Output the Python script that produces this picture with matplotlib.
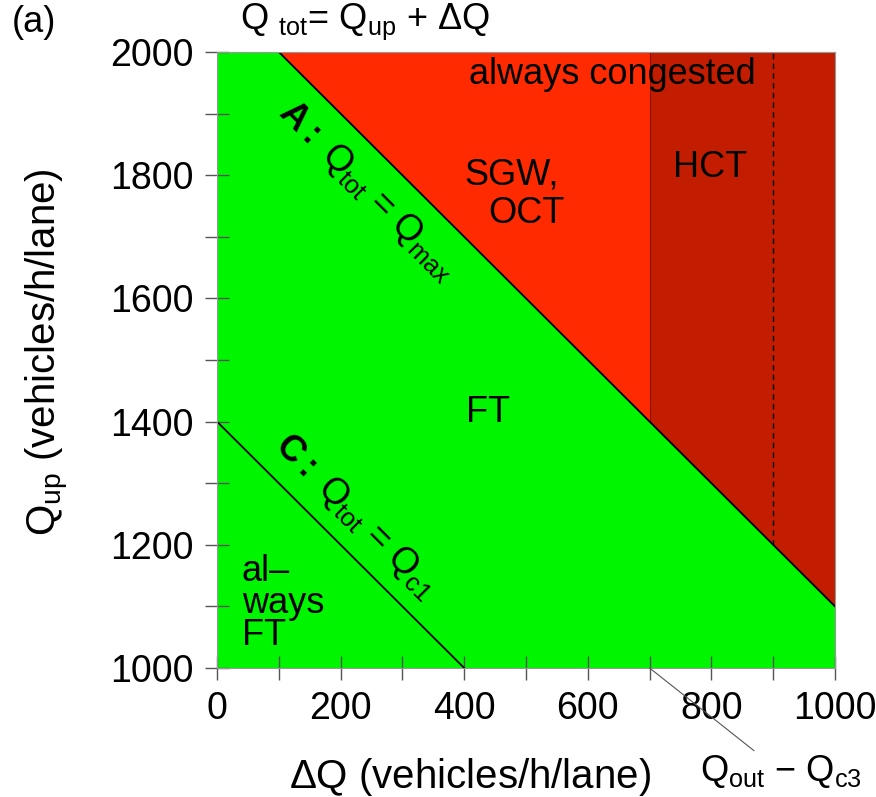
import numpy as np
import matplotlib
matplotlib.use("Agg")
import matplotlib.pyplot as plt
from matplotlib.ticker import MultipleLocator

plt.rcParams['font.family'] = ['Liberation Sans', 'DejaVu Sans']
plt.rcParams['mathtext.fontset'] = 'custom'
plt.rcParams['mathtext.rm'] = 'Liberation Sans'
plt.rcParams['mathtext.it'] = 'Liberation Sans:italic'
plt.rcParams['mathtext.bf'] = 'Liberation Sans:bold'

# Data / boundaries (vehicles/h/lane)
dq_range = [0, 1000]
qup_range = [1000, 2000]
q_max = 2100          # line A: Q_tot = Q_max
q_c1 = 1400           # line C: Q_tot = Q_c1
dq_hct = 700          # Q_out - Q_c3
dq_dash = 900
x_ticks = [0, 200, 400, 600, 800, 1000]
y_ticks = [1000, 1200, 1400, 1600, 1800, 2000]

GREEN = '#00f500'
RED = '#ff2a00'
DARKRED = '#c21d00'

fig = plt.figure(figsize=(8.76, 7.97), dpi=100)
ax = fig.add_axes([217/876, 1-668/797, (835-217)/876, (668-52)/797])
ax.set_xlim(*dq_range)
ax.set_ylim(*qup_range)
ax.set_facecolor(GREEN)

# red region (SGW, OCT)
xr = np.array([dq_range[0], dq_hct])
ax.fill_between(xr, q_max - xr, qup_range[1], color=RED, lw=0)
# dark red region (HCT)
xd = np.array([dq_hct, dq_range[1]])
ax.fill_between(xd, q_max - xd, qup_range[1], color=DARKRED, lw=0)
ax.plot([dq_hct, dq_hct], [q_max - dq_hct, qup_range[1]], color='#8a1500', lw=0.8)

# line A
xa = np.array(dq_range)
ax.plot(xa, q_max - xa, color='black', lw=1.3)
# line C
xc = np.array([0, q_c1 - qup_range[0]])
ax.plot(xc, q_c1 - xc, color='black', lw=1.3)
# dashed line
ax.plot([dq_dash, dq_dash], [q_max - dq_dash, qup_range[1]], color='black', lw=1.0,
        ls=(0, (4, 3)))

ax.xaxis.set_minor_locator(MultipleLocator(100))
ax.yaxis.set_minor_locator(MultipleLocator(100))
ax.set_xticks(x_ticks)
ax.set_yticks(y_ticks)
ax.tick_params(which='both', direction='inout', length=17, width=1.0, color='#555555',
               labelsize=27, pad=8)
for s in ax.spines.values():
    s.set_color('#999999')
    s.set_linewidth(0.8)

ax.set_xlabel(r'$\Delta$Q (vehicles/h/lane)', fontsize=29)
ax.xaxis.set_label_coords(253/618, -(756-668)/616)
ax.set_ylabel(r'Q$_{\mathrm{up}}$ (vehicles/h/lane)', fontsize=29)
ax.yaxis.set_label_coords((71-217)/618, 1-(352-52)/616)

# texts
fs = 26
ax.text(639, 1963, 'always congested', fontsize=fs, ha='center', va='center')
ax.text(477, 1800, 'SGW,', fontsize=fs, ha='center', va='center')
ax.text(500, 1738, 'OCT', fontsize=fs, ha='center', va='center')
ax.text(798, 1813, 'HCT', fontsize=fs, ha='center', va='center')
ax.text(438, 1414, 'FT', fontsize=fs, ha='center', va='center')
ax.text(40, 1105, 'al\u2013\nways\nFT', fontsize=fs, ha='left', va='center', linespacing=0.9)
ax.text(244, 1775, r'$\mathbf{A:}$ Q$_{\mathrm{tot}}$ = Q$_{\mathrm{max}}$', fontsize=fs,
        rotation=-45, rotation_mode='anchor', ha='center', va='center')
ax.text(225, 1247, r'$\mathbf{C:}$ Q$_{\mathrm{tot}}$ = Q$_{\mathrm{c1}}$', fontsize=fs,
        rotation=-45, rotation_mode='anchor', ha='center', va='center')

ax.annotate(r'Q$_{\mathrm{out}}$ $-$ Q$_{\mathrm{c3}}$', xy=(dq_hct, qup_range[0]),
            xycoords='data', xytext=(700/876, 1-772/797), textcoords='figure fraction',
            fontsize=fs, ha='left', va='center',
            arrowprops=dict(arrowstyle='-', color='#555555', lw=0.8, shrinkA=0, shrinkB=0),
            annotation_clip=False)

fig.text(240/876, 1-22/797, r'Q $_{\mathrm{tot}}$= Q$_{\mathrm{up}}$ + $\Delta$Q', fontsize=26,
         ha='left', va='center')
fig.text(12/876, 1-22/797, '(a)', fontsize=26, ha='left', va='center')

fig.savefig('out.png', dpi=100)
